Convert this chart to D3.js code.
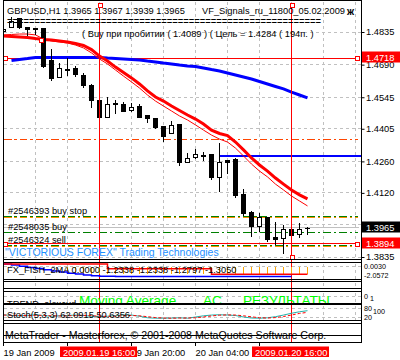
<!DOCTYPE html>
<html><head><meta charset="utf-8">
<script src="https://cdn.jsdelivr.net/npm/d3@7"></script>
<style>html,body{margin:0;padding:0;background:#fff}svg{display:block}text{font-family:"Liberation Sans",Arial,sans-serif}</style>
</head><body><svg id="c" width="400" height="360"></svg>
<script>
// ---------- data ----------
const opens  = [1.4839,1.4859,1.4896,1.4855,1.4851,1.4851,1.4711,1.4635,1.4671,1.4673,1.4644,1.4599,1.4535,1.4459,1.4517,1.4515,1.4488,1.4506,1.4466,1.4451,1.4417,1.4388,1.4424,1.4259,1.4278,1.4288,1.4293,1.4189,1.4266,1.4271,1.4115,1.4036,1.3974,1.4011,1.3923,1.3921,1.3961,1.3936,1.3965];
const highs  = [1.4853,1.4902,1.4897,1.4857,1.4853,1.4853,1.4759,1.4697,1.4719,1.4684,1.4655,1.4604,1.4537,1.4544,1.4535,1.4522,1.4518,1.4515,1.4466,1.4453,1.4419,1.4439,1.4426,1.4299,1.4314,1.4303,1.4295,1.4343,1.4268,1.4274,1.4136,1.4041,1.4032,1.4013,1.3992,1.3977,1.3964,1.3987,1.3967];
const lows   = [1.4835,1.4857,1.4853,1.4822,1.4826,1.4679,1.4622,1.4633,1.4644,1.4639,1.4591,1.4502,1.4455,1.4457,1.4475,1.4484,1.4482,1.4457,1.4435,1.4408,1.4351,1.4386,1.4244,1.4257,1.4277,1.4266,1.4180,1.4130,1.4210,1.4103,1.4022,1.3930,1.3951,1.3907,1.3893,1.3854,1.3933,1.3925,1.3939];
const closes = [1.4848,1.4886,1.4855,1.4848,1.4848,1.4684,1.4631,1.4673,1.4668,1.4648,1.4599,1.4533,1.4459,1.4517,1.4519,1.4486,1.4503,1.4459,1.4451,1.4411,1.4373,1.4422,1.4259,1.4277,1.4292,1.4286,1.4189,1.4259,1.4259,1.4111,1.4032,1.3973,1.4011,1.3915,1.3915,1.3958,1.3934,1.3961,1.3965];
const maFast = [1.4817,1.4815,1.4813,1.4811,1.4806,1.4802,1.4799,1.4795,1.4791,1.4784,1.4775,1.4757,1.4728,1.4706,1.4679,1.4655,1.4631,1.4604,1.4573,1.4546,1.4528,1.4506,1.4486,1.4466,1.4448,1.4426,1.4399,1.4384,1.4375,1.4346,1.4311,1.4275,1.4244,1.4217,1.4186,1.4159,1.4133,1.4111,1.4093];
const maThin = [1.4822,1.4824,1.4826,1.4826,1.4822,1.4804,1.4795,1.4791,1.4786,1.4777,1.4764,1.4742,1.4715,1.4693,1.4666,1.4639,1.4613,1.4586,1.4555,1.4528,1.4506,1.4484,1.4462,1.4444,1.4422,1.4399,1.4377,1.4359,1.4346,1.4319,1.4284,1.4248,1.4217,1.4191,1.4159,1.4133,1.4106,1.4084,1.4062];
const maSlow = [null,1.4708,1.4713,1.4717,1.4722,1.4722,1.4722,1.4722,1.4722,1.4722,1.4722,1.4722,1.4722,1.4719,1.4717,1.4715,1.4713,1.4711,1.4706,1.4702,1.4697,1.4693,1.4688,1.4684,1.4682,1.4675,1.4668,1.4662,1.4653,1.4644,1.4635,1.4626,1.4615,1.4604,1.4593,1.4582,1.4568,1.4555,1.4542];
const priceTicks = [1.4835,1.4690,1.4545,1.4405,1.4260,1.4120,1.3980,1.3835];
const priceTickLabels = ["1.4835","1.4690","1.4545","1.4405","1.4260","1.4120","","1.3835"];
const timeTickBars = [0,8,16,24,32];
const timeTickLabels = ["19 Jan 2009","","19 Jan 20:00","20 Jan 04:00",""];
const markerBars = [12,36];
const markerLabels = ["2009.01.19 16:00","2009.01.20 16:00"];
const levelTop = 1.4718, levelSell = 1.3894, levelTarget = 1.4284, levelBreak = 1.4358, bid = 1.3965;
const orderPrices = [1.4014,1.3942,1.3885];
const orderLabels = ["#2546393 buy stop","#2548035 buy","#2546324 sell"];
const orderTP = [1.4011,null,1.3883];
// FX_FISH_2MA sub-window
const fishRed  = [-0.10,-0.10,-0.10,-0.10,-0.10,-0.10,-0.10,-0.10,-0.10,-0.10,-0.10,-0.10,-0.10,-0.65,-0.65,-0.65,-0.65,-0.65,-0.65,-0.65,-0.65,-0.65,-0.65,-0.65,-0.65,-0.65,-1.28,-1.28,-1.28,-1.28,-1.28,-1.28,-1.28,-1.28,-1.28,-1.28,-1.28,-1.28,-1.28];
const fishBlue = [-0.10,-0.22,-0.36,-0.50,-0.64,-0.78,-0.92,-1.04,-1.16,-1.27,-1.37,-1.45,-1.50,-1.52,-1.53,-1.54,-1.55,-1.55,-1.55,-1.55,-1.55,-1.55,-1.55,-1.55,-1.55,-1.55,-1.55,-1.55,-1.55,-1.55,-1.55,-1.55,-1.55,-1.55,-1.55,-1.55,-1.55,null,null];
const fishHist = [null,null,null,null,null,null,null,null,-1.28,-1.28,-1.28,-1.28,-1.28,-1.28,-1.28,-1.28,-1.28,-1.28,-1.28,-1.28,-1.28,-1.28,-1.28,-1.28,-1.28,-1.28,-1.28,-1.28,-1.28,-1.28,-1.28,-1.28,-1.28,-1.28,-1.28,-1.28,-1.28,-1.28,-1.28];
const fishHistBase = -0.45;
// Stochastic sub-window
const stochMain   = [35,30,28,30,35,30,25,28,30,33,30,25,22,25,30,33,33,25,15,12,12,13,15,12,20,28,33,35,33,30,20,13,12,15,22,33,45,55,62];
const stochSignal = [33,32,30,29,31,31,28,27,28,30,31,29,25,24,26,29,30,28,22,16,13,12,13,13,15,20,27,32,34,33,28,21,15,13,16,23,33,44,51];

// ---------- setup ----------
const svg = d3.select('#c');
svg.append('rect').attr('width',400).attr('height',360).attr('fill','#fff');
const FONT = 9.3;
const x = d3.scaleLinear().domain([0,44]).range([3.5,355.5]);
const y = d3.scaleLinear().domain([1.3835,1.4835]).range([257,32]);
const fy = d3.scaleLinear().domain([-2.0572,0.003]).range([281,263]);
const sy = d3.scaleLinear().domain([0,100]).range([320,305]);
const snap = v => Math.round(v - 0.5) + 0.5;
const LEFT = 3.5, RIGHT = 361.5;
const panels = [[0.5,259.5],[262.5,279.5],[281.5,288.5],[291.5,303.5],[304.5,320.5],[323.5,335.5],[335.5,342.5]];

const defs = svg.append('defs');
panels.forEach((p,i)=>{
  defs.append('clipPath').attr('id','clip'+i).append('rect')
    .attr('x',LEFT).attr('y',p[0]).attr('width',RIGHT-LEFT).attr('height',p[1]-p[0]);
});

// ---------- grids ----------
const grid = svg.append('g').attr('stroke','#c0c0c0').attr('stroke-dasharray','3,3').attr('shape-rendering','crispEdges');
const gridBars = d3.range(4,45,4);
panels.slice(0,5).forEach(p=>{
  gridBars.forEach(b=>{
    grid.append('line').attr('x1',x(b)).attr('x2',x(b)).attr('y1',p[0]+1).attr('y2',p[1]);
  });
});
priceTicks.forEach(v=>{
  grid.append('line').attr('x1',LEFT).attr('x2',RIGHT).attr('y1',snap(y(v))).attr('y2',snap(y(v)));
});
[fy(-0.45)].forEach(v=>grid.append('line').attr('x1',LEFT).attr('x2',RIGHT).attr('y1',snap(v)).attr('y2',snap(v)));
[sy(80),sy(20)].forEach(v=>grid.append('line').attr('x1',LEFT).attr('x2',RIGHT).attr('y1',snap(v)).attr('y2',snap(v)));
grid.append('line').attr('x1',LEFT).attr('x2',RIGHT).attr('y1',296.5).attr('y2',296.5);

// ---------- main chart ----------
const main = svg.append('g').attr('clip-path','url(#clip0)');
const hline = (g,v,color,dash,w)=>g.append('line').attr('x1',LEFT).attr('x2',RIGHT-3)
  .attr('y1',snap(y(v))).attr('y2',snap(y(v))).attr('stroke',color).attr('stroke-width',w||1)
  .attr('stroke-dasharray',dash||null).attr('shape-rendering','crispEdges');
hline(main,bid,'#c0c0c0');
hline(main,levelBreak,'#ff4500','8,3,2,3');
orderPrices.forEach((p,i)=>{
  if(orderTP[i]!=null) hline(main,orderTP[i],'#ff8c00','8,3,2,3');
  hline(main,p,'#008000','8,3,2,3');
});
hline(main,levelTop,'#ff0000');
hline(main,levelSell,'#ff0000');
main.append('line').attr('x1',x(27)).attr('x2',RIGHT).attr('y1',y(levelTarget)).attr('y2',y(levelTarget))
  .attr('stroke','#0000ff').attr('stroke-width',2).attr('shape-rendering','crispEdges');

const idx = d3.range(opens.length);
const lineGen = arr => d3.line().defined(i=>arr[i]!=null).x(i=>x(i)).y(i=>y(arr[i]))(idx);
main.append('path').attr('d',lineGen(maSlow)).attr('fill','none').attr('stroke','#0000ff').attr('stroke-width',3);
main.append('path').attr('d',lineGen(maThin)).attr('fill','none').attr('stroke','#ff0000').attr('stroke-width',1);
main.append('path').attr('d',lineGen(maFast)).attr('fill','none').attr('stroke','#ff0000').attr('stroke-width',3);

const cg = main.append('g').attr('shape-rendering','crispEdges');
idx.forEach(i=>{
  const cx = x(i);
  cg.append('line').attr('x1',cx).attr('x2',cx).attr('y1',Math.round(y(highs[i]))).attr('y2',Math.round(y(lows[i]))+1).attr('stroke','#000');
  const yo = y(opens[i]), yc = y(closes[i]);
  const top = Math.round(Math.min(yo,yc)), bot = Math.round(Math.max(yo,yc));
  if (closes[i] > opens[i]) {
    cg.append('rect').attr('x',cx-2).attr('y',top+0.5).attr('width',4).attr('height',Math.max(1,bot-top))
      .attr('fill','#fff').attr('stroke','#000');
  } else {
    cg.append('rect').attr('x',cx-2.5).attr('y',top).attr('width',5).attr('height',Math.max(1,bot-top+1)).attr('fill','#000');
  }
});

markerBars.forEach(b=>{
  svg.append('line').attr('x1',x(b)).attr('x2',x(b)).attr('y1',5).attr('y2',342).attr('stroke','#ff0000').attr('shape-rendering','crispEdges');
});
const sq = (cx,cy)=>svg.append('rect').attr('x',Math.round(cx)-2+0.5).attr('y',Math.round(cy)-2+0.5).attr('width',4).attr('height',4)
  .attr('fill','#fff').attr('stroke','#ff0000').attr('shape-rendering','crispEdges');
sq(5,y(levelTop)); sq(357,y(levelTop));
sq(5,y(levelSell)); sq(357,y(levelSell));
markerBars.forEach(b=>sq(x(b),5));
sq(x(36),257);
sq(x(4.7),y(1.4799));

const T = (txt,tx,ty,opts={})=>svg.append('text').attr('x',tx).attr('y',ty).text(txt)
  .attr('font-size',opts.size||FONT).attr('fill',opts.fill||'#000').attr('font-weight',opts.weight||null)
  .attr('text-anchor',opts.anchor||null).attr('clip-path',opts.clip||null);
T('GBPUSD,H1  1.3965 1.3967 1.3939 1.3965',7,13.5);
T('VF_Signals_ru_11800_05.02.2009',202,13.5);
T('ж',347,14.5,{weight:'bold',size:10});
svg.append('text').attr('x',7).attr('y',25).text('='.repeat(57)).attr('font-size',11)
  .attr('textLength',314).attr('lengthAdjust','spacingAndGlyphs');
T('( Buy при пробитии ( 1.4089 )  ( Цель = 1.4284 ( 194п. )',82,36.5);
orderPrices.forEach((p,i)=>T(orderLabels[i],8,Math.round(y(p))-3));
T('"VICTORIOUS FOREX" Trading Technologies',5,255.5,{fill:'#1e90ff',size:10.5});

// ---------- FX_FISH_2MA ----------
const fishG = svg.append('g').attr('clip-path','url(#clip1)');
idx.forEach(i=>{ if(fishHist[i]!=null) fishG.append('line').attr('x1',x(i)).attr('x2',x(i))
  .attr('y1',fy(fishHistBase)).attr('y2',fy(fishHist[i])).attr('stroke','#ffa500').attr('shape-rendering','crispEdges'); });
const fl = arr => d3.line().defined(i=>arr[i]!=null).x(i=>x(i)).y(i=>fy(arr[i])).curve(d3.curveStepAfter)(idx);
fishG.append('path').attr('d',fl(fishBlue)).attr('fill','none').attr('stroke','#0000ff').attr('stroke-width',1.5);
fishG.append('path').attr('d',fl(fishRed)).attr('fill','none').attr('stroke','#ff0000').attr('stroke-width',1.5);
T('FX_FISH_2MA 0.0000 -1.2338 -1.2338 -1.2797 -1.3050',7,273);

// ---------- TREND panel ----------
T('TREND_alexcud',7,306.5,{clip:'url(#clip3)'});
T('Moving Average',79,305,{fill:'#00ff00',size:13.6,clip:'url(#clip3)'});
T('AC',203,305,{fill:'#00ff00',size:13.6,clip:'url(#clip3)'});
T('РЕЗУЛЬТАТЫ',243,305,{fill:'#00ff00',size:13.6,clip:'url(#clip3)'});

// ---------- Stoch ----------
const stG = svg.append('g').attr('clip-path','url(#clip4)');
const sl = arr => d3.line().x(i=>x(i)).y(i=>sy(arr[i]))(idx);
stG.append('path').attr('d',sl(stochMain)).attr('fill','none').attr('stroke','#20b2aa').attr('stroke-width',1);
stG.append('path').attr('d',sl(stochSignal)).attr('fill','none').attr('stroke','#ff0000').attr('stroke-width',1).attr('stroke-dasharray','3,2');
T('Stoch(5,3,3) 62.0915 50.6356',7,318);

T('MetaTrader - Masterforex, © 2001-2008 MetaQuotes Software Corp.',5,338.5,{size:10.6});

// ---------- borders ----------
const bd = svg.append('g').attr('stroke','#000').attr('shape-rendering','crispEdges');
panels.forEach(p=>{
  bd.append('line').attr('x1',LEFT).attr('x2',RIGHT).attr('y1',p[0]).attr('y2',p[0]);
  bd.append('line').attr('x1',LEFT).attr('x2',RIGHT).attr('y1',p[1]).attr('y2',p[1]);
});
bd.append('line').attr('x1',LEFT).attr('x2',LEFT).attr('y1',0).attr('y2',342.5);
bd.append('line').attr('x1',RIGHT).attr('x2',RIGHT).attr('y1',0).attr('y2',342.5);

// ---------- price axis ----------
const pa = svg.append('g').attr('transform',`translate(${RIGHT},0)`);
const axis = d3.axisRight(y).tickValues(priceTicks).tickSize(3).tickFormat((d,i)=>priceTickLabels[i]);
pa.call(axis);
pa.select('.domain').remove();
pa.selectAll('.tick line').attr('stroke','#000');
pa.selectAll('.tick text').attr('x',4.5).attr('dy','0.32em').attr('font-size',FONT).attr('font-family','"Liberation Sans",Arial,sans-serif').attr('fill','#000');
const box = (v,fill)=>{
  const cy = y(v);
  svg.append('rect').attr('x',362).attr('y',Math.round(cy)-6.5).attr('width',38).attr('height',11).attr('fill',fill);
  T(d3.format('.4f')(v),366,Math.round(cy)+2.5,{fill:'#fff'});
};
box(levelTop,'#ff0000');
box(bid,'#000');
box(levelSell,'#ff0000');
// sub-window scale labels (small, packed like the reference)
const SUB = 7.2;
T('0.0030',364,269,{size:SUB}); T('-2.0572',364,277.5,{size:SUB});
T('0',364,299,{size:SUB}); T('1',370,301,{size:SUB});
T('80',364,310.5,{size:SUB}); T('100',373,314,{size:SUB}); T('20',364,319.5,{size:SUB});

// ---------- time axis ----------
timeTickBars.forEach((b,i)=>{
  svg.append('line').attr('x1',x(b)).attr('x2',x(b)).attr('y1',342.5).attr('y2',346).attr('stroke','#000').attr('shape-rendering','crispEdges');
  if (timeTickLabels[i]) T(timeTickLabels[i],x(b),355.5);
});
markerBars.forEach((b,i)=>{
  svg.append('rect').attr('x',Math.round(x(b))-40).attr('y',346.5).attr('width',77).attr('height',10.5).attr('fill','#ff0000');
  T(markerLabels[i],Math.round(x(b))-37,355.5,{fill:'#fff'});
});
</script></body></html>
